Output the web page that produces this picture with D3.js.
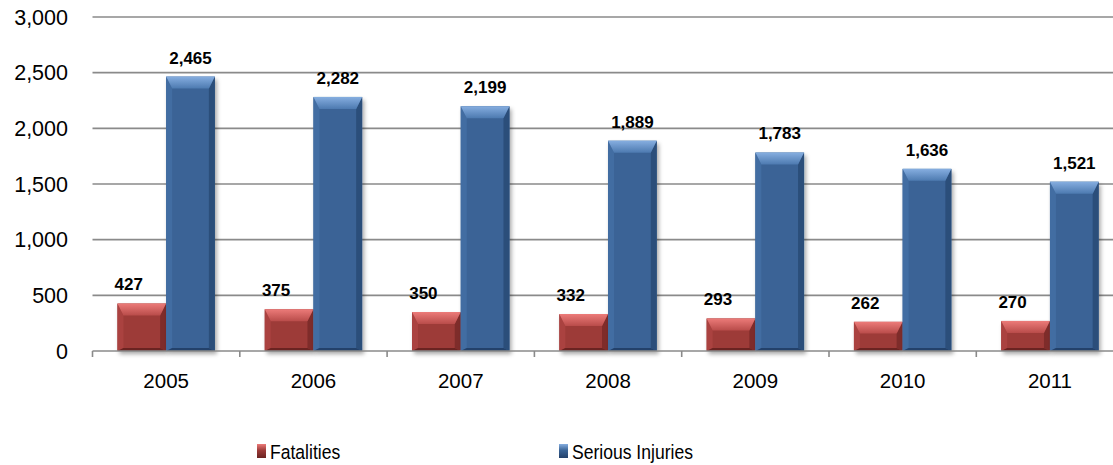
<!DOCTYPE html>
<html>
<head>
<meta charset="utf-8">
<script src="https://cdn.jsdelivr.net/npm/d3@7"></script>
<style>
  html, body { margin: 0; padding: 0; background: #ffffff; }
  svg { display: block; font-family: Arial, "Liberation Sans", sans-serif; }
</style>
</head>
<body>
<svg id="chart" width="1113" height="465"></svg>
<script>
// ---- data ----
const categories = ["2005", "2006", "2007", "2008", "2009", "2010", "2011"];
const seriesNames = ["Fatalities", "Serious Injuries"];
const fatalities = [427, 375, 350, 332, 293, 262, 270];
const seriousInjuries = [2465, 2282, 2199, 1889, 1783, 1636, 1521];
const yTicks = [0, 500, 1000, 1500, 2000, 2500, 3000];

// ---- styles ----
const palette = {
  "Fatalities": { face: "#9D3B39", top: "#EC7B79", topDark: "#B94C4A", left: "#AA4240", right: "#7E2C2A", bottom: "#6A2321" },
  "Serious Injuries": { face: "#3A6496", top: "#86AEE0", topDark: "#4D7AB0", left: "#426DA2", right: "#2B4E7A", bottom: "#23416A" }
};

const svg = d3.select("#chart");
const W = 1113, H = 465;
const plotLeft = 92.5, step = 147.3;
const x0 = d3.scaleBand().domain(categories).range([plotLeft, plotLeft + step * categories.length]).padding(0);
const x1 = d3.scaleBand().domain(seriesNames).range([0, x0.bandwidth()]).paddingInner(0).paddingOuter(0.512);
const y = d3.scaleLinear().domain([0, 3000]).range([351, 17]);

const defs = svg.append("defs");
const shadow = defs.append("filter").attr("id", "shadow").attr("x", "-20%").attr("y", "-20%").attr("width", "150%").attr("height", "150%");
shadow.append("feDropShadow").attr("dx", 2).attr("dy", 3).attr("stdDeviation", 2).attr("flood-color", "#000").attr("flood-opacity", 0.35);

seriesNames.forEach((s, i) => {
  const p = palette[s];
  const g = defs.append("linearGradient").attr("id", "topgrad" + i).attr("x1", 0).attr("y1", 0).attr("x2", 0).attr("y2", 1);
  g.append("stop").attr("offset", "0%").attr("stop-color", p.top);
  g.append("stop").attr("offset", "100%").attr("stop-color", p.topDark);
  const lg = defs.append("linearGradient").attr("id", "leggrad" + i).attr("x1", 0).attr("y1", 0).attr("x2", 0).attr("y2", 1);
  lg.append("stop").attr("offset", "0%").attr("stop-color", p.top);
  lg.append("stop").attr("offset", "45%").attr("stop-color", p.face);
  lg.append("stop").attr("offset", "100%").attr("stop-color", p.bottom);
});

// gridlines
svg.append("g").selectAll("line").data(yTicks.filter(d => d > 0)).join("line")
  .attr("x1", plotLeft).attr("x2", W)
  .attr("y1", d => y(d)).attr("y2", d => y(d))
  .attr("stroke", "#8a8a8a").attr("stroke-width", 1.6);

// y tick labels
svg.append("g").selectAll("text").data(yTicks).join("text")
  .attr("x", 68).attr("y", d => y(d)).attr("dy", "0.36em")
  .attr("text-anchor", "end").attr("font-size", 21.5).attr("fill", "#000")
  .text(d => d3.format(",")(d));

// bars
const rows = categories.map((c, i) => ({ cat: c, vals: [
  { s: seriesNames[0], si: 0, v: fatalities[i] },
  { s: seriesNames[1], si: 1, v: seriousInjuries[i] }
]}));

const barG = svg.append("g");
rows.forEach(r => {
  r.vals.forEach(d => {
    const p = palette[d.s];
    const xl = x0(r.cat) + x1(d.s), w = x1.bandwidth();
    const yt = y(d.v), yb = y(0), h = yb - yt;
    const bt = Math.min(12, h / 2.5), bs = 6, bb = 3;
    const g = barG.append("g");
    g.append("rect").attr("x", xl).attr("y", yt).attr("width", w).attr("height", h)
      .attr("fill", p.face).attr("filter", "url(#shadow)");
    g.append("polygon").attr("points", [[xl, yt], [xl + bs, yt + bt], [xl + bs, yb - bb], [xl, yb]].join(" ")).attr("fill", p.left);
    g.append("polygon").attr("points", [[xl + w, yt], [xl + w - bs, yt + bt], [xl + w - bs, yb - bb], [xl + w, yb]].join(" ")).attr("fill", p.right);
    g.append("polygon").attr("points", [[xl, yb], [xl + bs, yb - bb], [xl + w - bs, yb - bb], [xl + w, yb]].join(" ")).attr("fill", p.bottom);
    g.append("polygon").attr("points", [[xl, yt], [xl + w, yt], [xl + w - bs, yt + bt], [xl + bs, yt + bt]].join(" ")).attr("fill", "url(#topgrad" + d.si + ")");
    barG.append("text")
      .attr("x", xl + w / 2 + (d.si === 0 ? -13 : 0))
      .attr("y", yt - 13)
      .attr("text-anchor", "middle").attr("font-size", 17).attr("font-weight", "bold").attr("fill", "#000")
      .text(d3.format(",")(d.v));
  });
});

// x axis line
svg.append("line").attr("x1", plotLeft).attr("x2", W).attr("y1", y(0)).attr("y2", y(0))
  .attr("stroke", "#8a8a8a").attr("stroke-width", 1.6);
const bounds = d3.range(categories.length + 1).map(i => plotLeft + i * x0.step());
svg.append("g").selectAll("line").data(bounds.filter(b => b < W)).join("line")
  .attr("x1", d => d).attr("x2", d => d).attr("y1", y(0)).attr("y2", y(0) + 6)
  .attr("stroke", "#8a8a8a").attr("stroke-width", 1.6);
svg.append("g").selectAll("text").data(categories).join("text")
  .attr("x", d => x0(d) + x0.bandwidth() / 2).attr("y", 388)
  .attr("text-anchor", "middle").attr("font-size", 20.5).attr("fill", "#000")
  .text(d => d);

// legend
const legendX = [257, 559];
const lg = svg.append("g");
seriesNames.forEach((s, i) => {
  lg.append("rect").attr("x", legendX[i]).attr("y", 444).attr("width", 9).attr("height", 14)
    .attr("fill", "url(#leggrad" + i + ")");
  const tx = legendX[i] + 13;
  lg.append("text").attr("x", 0).attr("y", 0)
    .attr("transform", `translate(${tx},459) scale(0.9,1)`)
    .attr("font-size", 19.5).attr("fill", "#000")
    .text(s);
});
</script>
</body>
</html>
